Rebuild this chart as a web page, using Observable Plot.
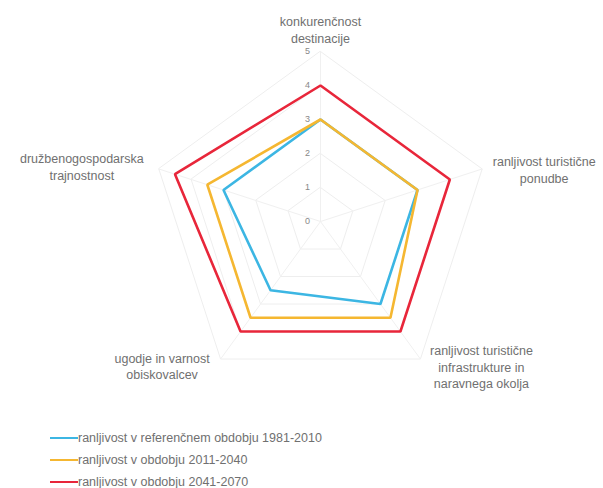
<!DOCTYPE html>
<html>
<head>
<meta charset="utf-8">
<script src="https://cdn.jsdelivr.net/npm/d3@7"></script>
<script src="https://cdn.jsdelivr.net/npm/@observablehq/plot@0.6"></script>
<style>
  body { margin: 0; background: #fff; font-family: "Liberation Sans", Arial, sans-serif; }
  #wrap { width: 603px; }
  #legend { margin-top: 2px; }
  .row { height: 22px; display: flex; align-items: center; font-size: 12.5px; color: #707070; }
  .sw { display: inline-block; width: 28px; height: 2.5px; margin-left: 50px; margin-right: 0px; }
</style>
</head>
<body>
<div id="wrap"></div>
<script>
// ---- data ----
const axisNames = [
  "konkurenčnost\ndestinacije",
  "ranljivost turistične\nponudbe",
  "ranljivost turistične\ninfrastrukture in\nnaravnega okolja",
  "ugodje in varnost\nobiskovalcev",
  "družbenogospodarska\ntrajnostnost"
];
const seriesNames = [
  "ranljivost v referenčnem obdobju 1981-2010",
  "ranljivost v obdobju 2011-2040",
  "ranljivost v obdobju 2041-2070"
];
const valuesRef = [3, 3, 3, 2.5, 3];
const values2011 = [3, 3, 3.5, 3.5, 3.5];
const values2041 = [4, 4, 4, 4, 4.5];
const tickValues = [0, 1, 2, 3, 4, 5];
const seriesColors = ["#3cb6e3", "#f5b731", "#e8263a"];

// ---- build ----
const W = 603, H = 425, CX = 320, CY = 221, U = 34;
const n = axisNames.length;
const ang = i => i * 2 * Math.PI / n;
const px = (i, r) => r * Math.sin(ang(i));
const py = (i, r) => r * Math.cos(ang(i));

const gridPts = [];
for (const lv of tickValues.filter(t => t > 0))
  for (let i = 0; i < n; i++) gridPts.push({level: lv, x: px(i, lv), y: py(i, lv)});

const spokes = axisNames.map((a, i) => ({x2: px(i, 5), y2: py(i, 5)}));

const seriesVals = [valuesRef, values2011, values2041];
const seriesPts = [];
seriesVals.forEach((vals, s) => vals.forEach((v, i) =>
  seriesPts.push({series: seriesNames[s], x: px(i, v), y: py(i, v)})));

const labelLayout = [
  {dx: 0, dy: -22.5},
  {dx: 62, dy: 0},
  {dx: 61, dy: 7.5},
  {dx: -58.5, dy: 6.5},
  {dx: -77, dy: -3}
];

const labelMarks = axisNames.map((name, i) =>
  Plot.text([{x: px(i, 5), y: py(i, 5), t: name}], {
    x: "x", y: "y", text: "t",
    dx: labelLayout[i].dx, dy: labelLayout[i].dy,
    textAnchor: "middle", lineAnchor: "middle", lineHeight: 1.33,
    fontSize: 12.5, fill: "#707070", fontFamily: "Liberation Sans, Arial, sans-serif"
  }));

const chart = Plot.plot({
  width: W, height: H,
  marginTop: 0, marginRight: 0, marginBottom: 0, marginLeft: 0,
  x: {domain: [-CX / U, (W - CX) / U], range: [0, W], axis: null},
  y: {domain: [-(H - CY) / U, CY / U], range: [H, 0], axis: null},
  color: {domain: seriesNames, range: seriesColors},
  style: {background: "#fff", fontFamily: "Liberation Sans, Arial, sans-serif"},
  marks: [
    Plot.line(gridPts, {x: "x", y: "y", z: "level", curve: "linear-closed", stroke: "#eeeeee", strokeWidth: 1}),
    Plot.link(spokes, {x1: () => 0, y1: () => 0, x2: "x2", y2: "y2", stroke: "#f0f0f0", strokeWidth: 1}),
    Plot.line(seriesPts, {x: "x", y: "y", z: "series", stroke: "series", curve: "linear-closed", strokeWidth: 2.6, strokeLinejoin: "miter"}),
    Plot.text(tickValues, {x: () => 0, y: d => d, text: d => String(d), dx: -13, fontSize: 9, fill: "#888"}),
    ...labelMarks
  ]
});

const wrap = document.getElementById("wrap");
wrap.appendChild(chart);

const legend = document.createElement("div");
legend.id = "legend";
seriesNames.forEach((s, i) => {
  const row = document.createElement("div");
  row.className = "row";
  const sw = document.createElement("span");
  sw.className = "sw";
  sw.style.background = seriesColors[i];
  row.appendChild(sw);
  const t = document.createElement("span");
  t.textContent = s;
  row.appendChild(t);
  legend.appendChild(row);
});
wrap.appendChild(legend);
</script>
</body>
</html>
